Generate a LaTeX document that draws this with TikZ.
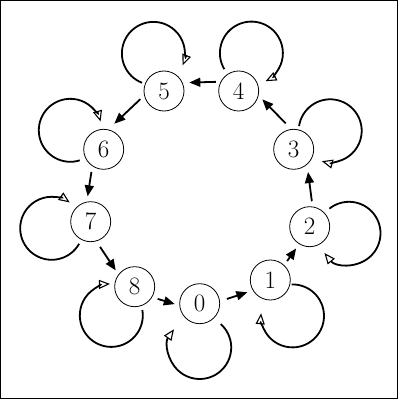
\documentclass[tikz,border=0pt]{standalone}
\usetikzlibrary{arrows.meta,calc}
\begin{document}
\begin{tikzpicture}[x=1pt,y=1pt,
  st/.style={circle,draw,line width=0.8pt,minimum size=40pt,inner sep=0pt,font=\fontsize{25}{30}\selectfont},
  edgest/.style={line width=1.8pt,-{Triangle[length=11pt,width=9pt]}},
  loopst/.style={line width=1.8pt,-{Triangle[open,length=11pt,width=9pt,line width=1.1pt]}}]
\useasboundingbox (0,0) rectangle (400,400);
\draw[line width=1pt] (0.5,1.5) rectangle (397.5,399.5);
\node[st] (n0) at (199.7,96.3) {0};
\node[st] (n1) at (270.3,120) {1};
\node[st] (n2) at (309.7,173.3) {2};
\node[st] (n3) at (293.7,250.7) {3};
\node[st] (n4) at (238.7,309) {4};
\node[st] (n5) at (164,309) {5};
\node[st] (n6) at (103.7,250.7) {6};
\node[st] (n7) at (90.7,178.3) {7};
\node[st] (n8) at (134.7,113.3) {8};
% edges
\draw[edgest,shorten <=7.3pt,shorten >=5.7pt] (n0.7.8) -- (n1.211);
\draw[edgest,shorten <=5pt,shorten >=5.2pt] (n1.47) -- (n2.239);
\draw[edgest,shorten <=5.3pt,shorten >=7.4pt] (n2.82) -- (n3.311);
\draw[edgest,shorten <=7.8pt,shorten >=5.3pt] (n3.97.6) -- (n4.347);
\draw[edgest,shorten <=4.6pt,shorten >=6.7pt] (n4.153) -- (n5.24);
\draw[edgest,shorten <=5.3pt,shorten >=8.3pt] (n5.193) -- (n6.77);
\draw[edgest,shorten <=5.8pt,shorten >=5.4pt] (n6.236) -- (n7.101);
\draw[edgest,shorten <=6.7pt,shorten >=4.8pt] (n7.286.5) -- (n8.143);
\draw[edgest,shorten <=5.7pt,shorten >=4.8pt] (n8.329) -- (n0.185);
% self loop centres
\coordinate (c0) at ($(n0)+(0,-43.8)$);
\coordinate (c1) at ($(n1)+(22.2,-35.9)$);
\coordinate (c2) at ($(n2)+(39.3,-6.6)$);
\coordinate (c3) at ($(n3)+(36.5,18.5)$);
\coordinate (c4) at ($(n4)+(12.7,37.9)$);
\coordinate (c5) at ($(n5)+(-10.6,37.6)$);
\coordinate (c6) at ($(n6)+(-33.4,19)$);
\coordinate (c7) at ($(n7)+(-39,-6.6)$);
\coordinate (c8) at ($(n8)+(-23.4,-28.7)$);
% self loops
\draw[loopst] ($(c0)+(48:31.5)$) arc[start angle=48, end angle=-215.3, radius=31.5];
\draw[loopst] ($(c1)+(91.4:31.5)$) arc[start angle=91.4, end angle=-184.8, radius=31.5];
\draw[loopst] ($(c2)+(128.4:31.5)$) arc[start angle=128.4, end angle=-141.3, radius=31.5];
\draw[loopst] ($(c3)+(171.4:31.5)$) arc[start angle=171.4, end angle=-105.4, radius=31.5];
\draw[loopst] ($(c4)+(210.6:31.5)$) arc[start angle=210.6, end angle=-63.2, radius=31.5];
\draw[loopst] ($(c5)+(248.8:31.5)$) arc[start angle=248.8, end angle=-22.3, radius=31.5];
\draw[loopst] ($(c6)+(287.5:31.5)$) arc[start angle=287.5, end angle=16.1, radius=31.5];
\draw[loopst] ($(c7)+(330.6:31.5)$) arc[start angle=330.6, end angle=55.2, radius=31.5];
\draw[loopst] ($(c8)+(9.8:31.5)$) arc[start angle=9.8, end angle=-267.6, radius=31.5];
\end{tikzpicture}
\end{document}
